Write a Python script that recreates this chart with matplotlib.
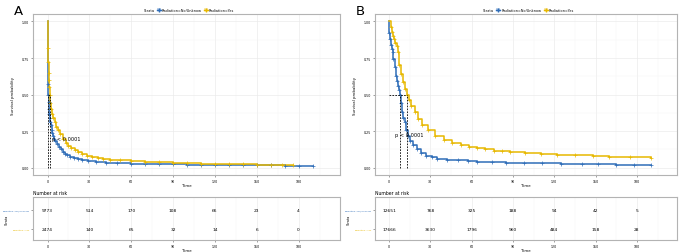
import numpy as np
import matplotlib.pyplot as plt
from matplotlib.lines import Line2D
from matplotlib.patches import Patch

blue = "#2F6DB8"
yellow = "#E7B800"

strata = ["Radiation=No/Unknow", "Radiation=Yes"]
tick_times = [0, 30, 60, 90, 120, 150, 180]

# panel A
a_no_t = [0, 0.2, 0.4, 0.7, 1.0, 1.3, 1.6, 2.0, 2.5, 3.0, 3.5, 4, 4.8, 5.7, 6.7, 8, 9.5, 11, 12.5, 14,
          16, 19, 22, 25, 29, 35, 42, 50, 60, 70, 80, 90, 100, 110, 120, 130, 140, 150, 160, 170, 180, 190]
a_no_s = [1.0, 0.57, 0.5, 0.45, 0.40, 0.37, 0.34, 0.31, 0.29, 0.26, 0.24, 0.22, 0.2, 0.18, 0.16, 0.14,
          0.125, 0.11, 0.097, 0.085, 0.075, 0.065, 0.058, 0.052, 0.046, 0.04, 0.036, 0.032, 0.029, 0.027,
          0.025, 0.024, 0.022, 0.021, 0.02, 0.019, 0.018, 0.017, 0.016, 0.015, 0.014, 0.013]
a_yes_t = [0, 0.2, 0.5, 0.8, 1.0, 1.3, 1.5, 2.0, 2.5, 3.2, 4, 5, 6, 7.5, 9, 11, 13, 15, 17, 19.5, 22,
           25, 28, 32, 36, 40, 45, 52, 60, 70, 80, 90, 100, 110, 120, 130, 140, 150, 160, 168, 176]
a_yes_s = [1.0, 0.82, 0.72, 0.65, 0.6, 0.55, 0.5, 0.44, 0.4, 0.37, 0.34, 0.31, 0.28, 0.255, 0.23, 0.2,
           0.17, 0.15, 0.135, 0.12, 0.105, 0.092, 0.08, 0.072, 0.065, 0.06, 0.056, 0.051, 0.046, 0.041,
           0.037, 0.034, 0.031, 0.029, 0.027, 0.025, 0.023, 0.021, 0.019, 0.017, 0.016]
a_risk_no = [9773, 514, 170, 108, 66, 23, 4]
a_risk_yes = [2474, 140, 65, 32, 14, 6, 0]

# panel B
b_no_t = [0, 0.2, 0.7, 1.2, 1.9, 2.6, 3.1, 3.9, 4.8, 5.7, 6.6, 7.3, 7.9, 8.7, 9.5, 10.4, 11.4, 12.5,
          13.8, 15.5, 17.4, 20, 23.4, 27, 31, 35, 42, 50, 57, 64, 75, 85, 98, 111, 125, 140, 152, 165,
          178, 190]
b_no_s = [1.0, 0.92, 0.88, 0.84, 0.81, 0.79, 0.745, 0.69, 0.63, 0.59, 0.56, 0.53, 0.5, 0.44, 0.38,
          0.34, 0.31, 0.26, 0.22, 0.185, 0.155, 0.125, 0.098, 0.083, 0.072, 0.063, 0.056, 0.05, 0.045,
          0.041, 0.038, 0.035, 0.032, 0.03, 0.027, 0.025, 0.023, 0.021, 0.019, 0.018]
b_yes_t = [0, 1.0, 1.9, 2.8, 3.8, 4.6, 5.5, 6.6, 7.4, 8.8, 10.2, 11.6, 13.1, 14.6, 16.2, 18.5, 20.9,
           24, 28, 33, 40, 46, 52, 58, 64, 70, 76, 82, 88, 99, 110, 122, 135, 148, 160, 175, 190]
b_yes_s = [1.0, 0.96, 0.93, 0.9, 0.88, 0.855, 0.83, 0.79, 0.7, 0.64, 0.585, 0.54, 0.5, 0.46, 0.425,
           0.38, 0.335, 0.295, 0.255, 0.22, 0.188, 0.17, 0.155, 0.144, 0.134, 0.125, 0.118, 0.112,
           0.107, 0.1, 0.095, 0.089, 0.084, 0.08, 0.076, 0.072, 0.068]
b_risk_no = [12651, 768, 325, 188, 94, 42, 5]
b_risk_yes = [17666, 3630, 1796, 960, 484, 158, 28]


def median_time(t, s):
    for ti, si in zip(t, s):
        if si <= 0.5:
            return ti
    return None


def style_axes(ax):
    for sp in ax.spines.values():
        sp.set_color("#B3B3B3")
        sp.set_linewidth(0.8)
    ax.set_xlim(-10.5, 209.5)
    ax.set_xticks(tick_times)
    ax.set_xticks([15, 45, 75, 105, 135, 165, 195], minor=True)
    ax.grid(True, which="major", color="#EBEBEB", lw=0.5)
    ax.grid(True, which="minor", color="#F4F4F4", lw=0.3)
    ax.tick_params(which="major", labelsize=2.3, length=1.5, width=0.4, color="#555555", pad=1)
    ax.tick_params(which="minor", length=0)
    ax.set_axisbelow(True)
    ax.set_xlabel("Time", fontsize=2.8, labelpad=0.5)


def km_panel(fig, left, width, letter, curves, risks, pval_xy):
    ax = fig.add_axes([left, 0.304, width, 0.636])
    rt = fig.add_axes([left, 0.047, width, 0.170])
    style_axes(ax)
    style_axes(rt)

    meds = []
    for (t, s), col in zip(curves, [blue, yellow]):
        ax.step(t, s, where="post", color=col, lw=1.1, zorder=3)
        ax.plot(t[1:], s[1:], "+", color=col, ms=2.2, mew=0.5, zorder=4)
        meds.append(median_time(t, s))

    for m in meds:
        ax.plot([m, m], [0, 0.5], ls=(0, (2, 1.5)), color="black", lw=0.6, zorder=5)
    ax.plot([0, max(meds)], [0.5, 0.5], ls=(0, (2, 1.5)), color="black", lw=0.6, zorder=5)
    ax.text(pval_xy[0], pval_xy[1], "p < 0.0001", fontsize=3.6, va="center", ha="left", zorder=6)

    ax.set_ylim(-0.05, 1.05)
    ax.set_yticks([0, 0.25, 0.5, 0.75, 1.0])
    ax.set_yticklabels(["0.00", "0.25", "0.50", "0.75", "1.00"])
    ax.set_yticks([0.125, 0.375, 0.625, 0.875], minor=True)
    ax.set_ylabel("Survival probability", fontsize=2.8, labelpad=5)

    handles = [Line2D([], [], alpha=0),
               (Patch(facecolor=blue, alpha=0.3, lw=0), Line2D([], [], color=blue, lw=1, marker="+", ms=2.5)),
               (Patch(facecolor=yellow, alpha=0.3, lw=0), Line2D([], [], color=yellow, lw=1, marker="+", ms=2.5))]
    ax.legend(handles, ["Strata"] + strata, loc="lower center", bbox_to_anchor=(0.5, 1.0),
              ncol=3, frameon=False, fontsize=2.5, handlelength=1.2, handletextpad=0.3,
              columnspacing=0.6, borderpad=0.2)

    for row, vals in enumerate(risks):
        y = 1 - row
        for tt, v in zip(tick_times, vals):
            rt.text(tt, y, str(v), fontsize=3.2, ha="center", va="center")
    rt.set_ylim(-0.57, 1.66)
    rt.set_yticks([1, 0])
    rt.set_yticklabels(strata)
    rt.tick_params(axis="y", labelsize=1.75, pad=0.5)
    for lab, col in zip(rt.get_yticklabels(), [blue, yellow]):
        lab.set_color(col)
    rt.grid(False, axis="y")
    # strata label sits at the very left edge, as in the reference
    fig.text(left - 0.041, 0.047 + 0.085, "Strata", fontsize=2.4, rotation=90,
             ha="left", va="center")
    rt.set_title("Number at risk", fontsize=3.3, loc="left", pad=2)

    fig.text(left - 0.028, 0.955, letter, fontsize=9.5, ha="left", va="center")


fig = plt.figure(figsize=(6.85, 2.53), dpi=100)
km_panel(fig, 0.048, 0.448, "A",
         [(a_no_t, a_no_s), (a_yes_t, a_yes_s)], [a_risk_no, a_risk_yes], (3, 0.2))
km_panel(fig, 0.547, 0.442, "B",
         [(b_no_t, b_no_s), (b_yes_t, b_yes_s)], [b_risk_no, b_risk_yes], (4, 0.225))
fig.savefig("out.png", dpi=100)
